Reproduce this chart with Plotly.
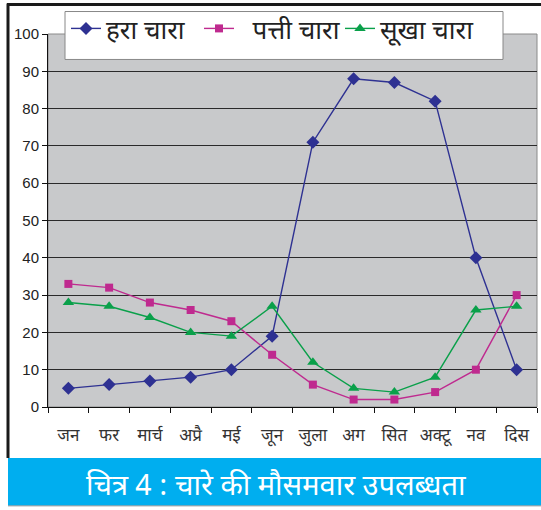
import plotly.graph_objects as go

months = ["जन", "फर", "मार्च", "अप्रै", "मई", "जून", "जुला", "अग", "सित", "अक्टू", "नव", "दिस"]
green_fodder = [5, 6, 7, 8, 10, 19, 71, 88, 87, 82, 40, 10]
leaf_fodder = [33, 32, 28, 26, 23, 14, 6, 2, 2, 4, 10, 30]
dry_fodder = [28, 27, 24, 20, 19, 27, 12, 5, 4, 8, 26, 27]
series_names = ["हरा चारा", "  पत्ती चारा", "सूखा चारा"]
y_ticks = [0, 10, 20, 30, 40, 50, 60, 70, 80, 90, 100]
title_text = "चित्र 4 : चारे की मौसमवार उपलब्धता"

W, H = 541, 510
L, R, T, B = 48, 537, 33.5, 407

def px(x):
    return (x - L) / (R - L)

def py(y):
    return (B - y) / (B - T)

DEVA = "Noto Sans Devanagari, Lohit Devanagari, Noto Sans, Arial, sans-serif"

fig = go.Figure()
styles = [
    (green_fodder, "#2e3192", "diamond", 10, 88),
    (leaf_fodder, "#bf2a8f", "square", 8, 96),
    (dry_fodder, "#0aa04a", "triangle-up", 10, 110),
]
for (vals, col, sym, sz, lw), name in zip(styles, series_names):
    fig.add_trace(go.Scatter(
        x=months, y=vals, name=name, mode="lines+markers",
        line=dict(color=col, width=1.4),
        marker=dict(symbol=sym, size=sz, color=col),
        legendwidth=lw,
    ))

shapes = [
    dict(type="rect", xref="paper", yref="paper", x0=0, x1=1, y0=0, y1=1,
         line=dict(color="#8a8a8a", width=1), layer="below"),
    dict(type="rect", xref="paper", yref="paper", x0=px(8), x1=px(541), y0=py(458), y1=py(506),
         fillcolor="#00aeef", line=dict(width=0), layer="above"),
    dict(type="line", xref="paper", yref="paper", x0=px(8), x1=px(541), y0=py(506), y1=py(506),
         line=dict(color="#9a9a9a", width=1)),
    dict(type="line", xref="paper", yref="paper", x0=px(7), x1=px(541), y0=py(4), y1=py(4),
         line=dict(color="#1a1a1a", width=3)),
    dict(type="line", xref="paper", yref="paper", x0=px(8), x1=px(8), y0=py(3), y1=py(458),
         line=dict(color="#1a1a1a", width=3)),
    dict(type="rect", xref="paper", yref="paper", x0=px(65), x1=px(503), y0=py(11), y1=py(59),
         fillcolor="white", line=dict(color="#888888", width=1), layer="above"),
]

fig.update_layout(
    width=W, height=H,
    margin=dict(l=L, r=W - R, t=T, b=H - B, pad=0, autoexpand=False),
    paper_bgcolor="white",
    plot_bgcolor="#c8c9cb",
    showlegend=True,
    legend=dict(orientation="h", x=px(66), y=py(28), xanchor="left", yanchor="middle",
                bgcolor="rgba(0,0,0,0)", font=dict(family=DEVA, size=26, color="#222"),
                itemwidth=30, entrywidthmode="pixels"),
    shapes=shapes,
    annotations=[dict(text=title_text, xref="paper", yref="paper", x=px(276), y=py(488),
                      xanchor="center", yanchor="middle", showarrow=False,
                      font=dict(family=DEVA, size=29, color="white"))],
    xaxis=dict(type="category", categoryorder="array", categoryarray=months,
               tickson="boundaries", ticks="outside", ticklen=5, tickcolor="#111",
               showline=True, linecolor="#111", linewidth=1, showgrid=False,
               tickangle=0, automargin=False,
               tickfont=dict(family=DEVA, size=17, color="#333"), range=[-0.5, 11.5],
               ticklabelstandoff=13),
    yaxis=dict(range=[0, 100], tickvals=y_ticks, ticks="outside", ticklen=5, tickcolor="#111",
               showline=True, linecolor="#111", linewidth=1, automargin=False,
               showgrid=True, gridcolor="#2a2a2a", gridwidth=1, zeroline=False,
               tickfont=dict(family="Liberation Sans, Arial, sans-serif", size=15, color="#222")),
)

fig.write_html("out.html", config={"displayModeBar": False},
               post_script="document.body.style.margin='0';")
